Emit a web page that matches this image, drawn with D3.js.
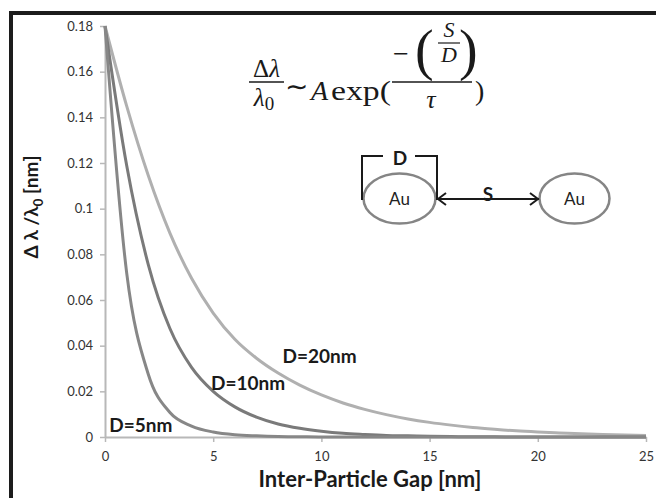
<!DOCTYPE html>
<html>
<head>
<meta charset="utf-8">
<script src="https://cdn.jsdelivr.net/npm/d3@7"></script>
<style>
  body { margin: 0; background: #fff; }
  svg { display: block; font-family: Lato, "Open Sans", sans-serif; }
</style>
</head>
<body>
<div id="chart"></div>
<script>
// data (gap in nm, shift in nm)
const GAP_NM = [0, 1, 2, 3, 4, 5, 6, 7, 8, 9, 10, 11, 12, 13, 14, 15, 16, 17, 18, 19, 20, 21, 22, 23, 24, 25];
const D5_SHIFT = [0.18, 0.072, 0.0275, 0.0107, 0.0048, 0.0022, 0.0010, 0.0005, 0.0002, 0.0001, 0, 0, 0, 0, 0, 0, 0, 0, 0, 0, 0, 0, 0, 0, 0, 0];
const D10_SHIFT = [0.18, 0.119, 0.0755, 0.0475, 0.0305, 0.0200, 0.0132, 0.0087, 0.0057, 0.0038, 0.0025, 0.0016, 0.0011, 0.0007, 0.0005, 0.0003, 0.0002, 0.0001, 0.0001, 0, 0, 0, 0, 0, 0, 0];
const D20_SHIFT = [0.18, 0.145, 0.1145, 0.0893, 0.0695, 0.0543, 0.0428, 0.0345, 0.0280, 0.0227, 0.0184, 0.0149, 0.0121, 0.0098, 0.0079, 0.0064, 0.0052, 0.0042, 0.0034, 0.0027, 0.0022, 0.0018, 0.0014, 0.0011, 0.0009, 0.0007];
const SERIES_NAMES = ["D=5nm", "D=10nm", "D=20nm"];
const X_TICKS = [0, 5, 10, 15, 20, 25];
const Y_TICKS = [0, 0.02, 0.04, 0.06, 0.08, 0.1, 0.12, 0.14, 0.16, 0.18];

const FRAME_HEIGHT = 498;
const FRAME_WIDTH = 656;
const MARGINS = {left: 105, right: 10, top: 26, bottom: 61};

const VIS_HEIGHT = FRAME_HEIGHT - MARGINS.top - MARGINS.bottom;
const VIS_WIDTH = FRAME_WIDTH - MARGINS.left - MARGINS.right;

const FRAME = d3.select("#chart")
                .append("svg")
                  .attr("height", FRAME_HEIGHT)
                  .attr("width", FRAME_WIDTH);

// black frame edges (top and left only)
FRAME.append("rect").attr("x", 9).attr("y", 11).attr("width", FRAME_WIDTH - 9).attr("height", 4).attr("fill", "#1c1c1c");
FRAME.append("rect").attr("x", 9).attr("y", 11).attr("width", 4).attr("height", FRAME_HEIGHT - 11).attr("fill", "#1c1c1c");

const X_SCALE = d3.scaleLinear()
                  .domain([0, 25])
                  .range([0, VIS_WIDTH]);
const Y_SCALE = d3.scaleLinear()
                  .domain([0, 0.18])
                  .range([VIS_HEIGHT, 0]);

const PLOT = FRAME.append("g")
                  .attr("transform", "translate(" + MARGINS.left + "," + MARGINS.top + ")");

// axes
const xAxis = PLOT.append("g")
    .attr("transform", "translate(0," + VIS_HEIGHT + ")")
    .call(d3.axisBottom(X_SCALE).tickValues(X_TICKS).tickSizeOuter(0).tickSizeInner(5).tickPadding(10));
const yAxis = PLOT.append("g")
    .call(d3.axisLeft(Y_SCALE).tickValues(Y_TICKS).tickSizeOuter(0).tickSizeInner(5).tickPadding(7)
            .tickFormat((d) => String(+d.toFixed(2))));

[xAxis, yAxis].forEach((ax) => {
  ax.select(".domain").attr("stroke", "#b8b8b8").attr("stroke-width", 2);
  ax.selectAll(".tick line").attr("stroke", "#b8b8b8").attr("stroke-width", 1.5);
  ax.selectAll(".tick text").attr("fill", "#333").attr("font-size", 13).style("font-family", "Lato, sans-serif");
});

// curves
const SERIES = [
  {name: SERIES_NAMES[2], values: D20_SHIFT, color: "#b0b0b0"},
  {name: SERIES_NAMES[1], values: D10_SHIFT, color: "#7a7a7a"},
  {name: SERIES_NAMES[0], values: D5_SHIFT, color: "#878787"}
];

const line = d3.line()
               .x((d) => X_SCALE(d[0]))
               .y((d) => Y_SCALE(d[1]))
               .curve(d3.curveMonotoneX);

PLOT.selectAll(".curve")
    .data(SERIES)
    .enter()
    .append("path")
      .attr("class", "curve")
      .attr("fill", "none")
      .attr("stroke", (d) => d.color)
      .attr("stroke-width", 3)
      .attr("d", (d) => line(GAP_NM.map((g, i) => [g, d.values[i]])));

// curve labels, anchored in data units
const LABEL_AT = {"D=5nm": [0.2, 0.0022], "D=10nm": [4.9, 0.0206], "D=20nm": [8.2, 0.0324]};
PLOT.selectAll(".lab")
    .data(SERIES_NAMES)
    .enter()
    .append("text")
      .attr("x", (d) => X_SCALE(LABEL_AT[d][0]))
      .attr("y", (d) => Y_SCALE(LABEL_AT[d][1]))
      .attr("fill", "#1a1a1a")
      .style("font-size", "19px")
      .style("font-weight", "700")
      .text((d) => d);

// axis titles
FRAME.append("text")
     .attr("x", 370)
     .attr("y", 487)
     .attr("text-anchor", "middle")
     .attr("fill", "#1a1a1a")
     .style("font-size", "22px")
     .style("font-weight", "700")
     .text("Inter-Particle Gap [nm]");

const yTitle = FRAME.append("text")
     .attr("transform", "translate(38,207) rotate(-90)")
     .attr("text-anchor", "middle")
     .attr("fill", "#1a1a1a")
     .style("font-size", "19px")
     .style("font-weight", "700");
yTitle.append("tspan").text("\u0394 \u03bb /\u03bb");
yTitle.append("tspan").attr("dy", 5).style("font-size", "13px").text("0");
yTitle.append("tspan").attr("dy", -5).text(" [nm]");

// equation
const EQ = FRAME.append("g")
                .attr("fill", "#1a1a1a")
                .style("font-family", "'Liberation Serif', serif");
const eqText = (x, y, size, txt, italic, anchor) => EQ.append("text")
    .attr("x", x).attr("y", y)
    .attr("text-anchor", anchor || "start")
    .style("font-size", size + "px")
    .style("font-style", italic ? "italic" : "normal")
    .text(txt);

const num = eqText(266.5, 77, 25, "", false, "middle");
num.append("tspan").text("\u0394");
num.append("tspan").style("font-style", "italic").text("\u03bb");
EQ.append("line").attr("x1", 249).attr("x2", 284).attr("y1", 82).attr("y2", 82).attr("stroke", "#1a1a1a").attr("stroke-width", 1.3);
const den = eqText(264, 106, 25, "", false, "middle");
den.append("tspan").style("font-style", "italic").text("\u03bb");
den.append("tspan").attr("dy", 4).style("font-size", "19px").text("0");

eqText(285, 96, 28, "\u223c", false);
eqText(311, 100, 28, "A", true);
eqText(331, 100, 28, "exp(", false).attr("textLength", 60).attr("lengthAdjust", "spacingAndGlyphs");

EQ.append("line").attr("x1", 392).attr("x2", 472).attr("y1", 82).attr("y2", 82).attr("stroke", "#1a1a1a").attr("stroke-width", 1.3);
eqText(393, 63, 28, "\u2212", false);
eqText(415, 69, 56, "(", false);
eqText(449, 37, 22, "S", true, "middle");
EQ.append("line").attr("x1", 438).attr("x2", 460).attr("y1", 43).attr("y2", 43).attr("stroke", "#1a1a1a").attr("stroke-width", 1.2);
eqText(449, 62, 22, "D", true, "middle");
eqText(459, 69, 56, ")", false);
eqText(431, 108, 26, "\u03c4", true, "middle");
eqText(475, 100, 28, ")", false);

// particle sketch
const SK = FRAME.append("g");
SK.append("ellipse").attr("cx", 399.5).attr("cy", 198.5).attr("rx", 36).attr("ry", 25)
  .attr("fill", "#fff").attr("stroke", "#858585").attr("stroke-width", 2.5);
SK.append("ellipse").attr("cx", 574.5).attr("cy", 198.5).attr("rx", 35).attr("ry", 25)
  .attr("fill", "#fff").attr("stroke", "#858585").attr("stroke-width", 2.5);
SK.selectAll(".au").data([399.5, 574.5]).enter().append("text")
  .attr("x", (d) => d).attr("y", 205)
  .attr("text-anchor", "middle").attr("fill", "#222")
  .style("font-size", "17px").text("Au");
SK.append("path")
  .attr("d", "M362,200 V156 H383 M415,156 H437 V200")
  .attr("fill", "none").attr("stroke", "#1a1a1a").attr("stroke-width", 2);
SK.append("text").attr("x", 400).attr("y", 165).attr("text-anchor", "middle")
  .attr("fill", "#1a1a1a").style("font-size", "19px").style("font-weight", "700").text("D");
SK.append("path")
  .attr("d", "M437,199 H539 M446,193 L438,199 L446,205 M530,193 L538,199 L530,205")
  .attr("fill", "none").attr("stroke", "#1a1a1a").attr("stroke-width", 2);
SK.append("text").attr("x", 488).attr("y", 201).attr("text-anchor", "middle")
  .attr("fill", "#1a1a1a").style("font-size", "19px").style("font-weight", "700").text("S");
</script>
</body>
</html>
